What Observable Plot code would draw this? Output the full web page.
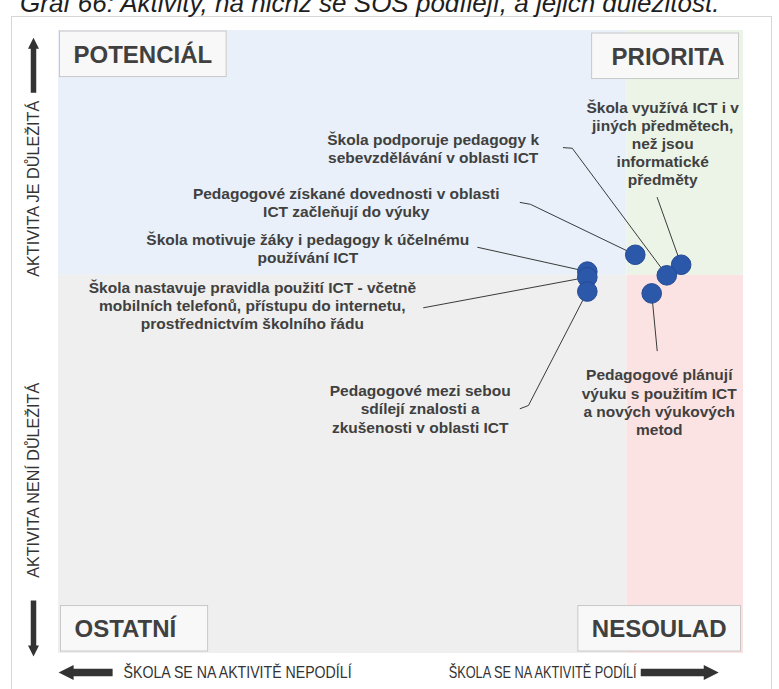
<!DOCTYPE html>
<html>
<head>
<meta charset="utf-8">
<script src="https://cdn.jsdelivr.net/npm/d3@7"></script>
<script src="https://cdn.jsdelivr.net/npm/@observablehq/plot@0.6"></script>
<style>
  body { margin: 0; background: #fff; }
  #wrap { position: relative; width: 779px; height: 689px; overflow: hidden; background: #fff; }
  #chart { position: absolute; left: 0; top: 0; }
  #border { position: absolute; left: 11px; top: 16px; width: 759px; height: 720px; border: 1px solid #d6d6d6; pointer-events: none; }
  #title { position: absolute; left: 20px; top: -10px; font: italic 26px/26px "Liberation Sans", Arial, sans-serif; color: #1e1e1e; white-space: nowrap; }
</style>
</head>
<body>
<div id="wrap">
  <div id="chart"></div>
  <div id="border"></div>
  <div id="title">Graf 66: Aktivity, na nichž se SOŠ podílejí, a jejich důležitost.</div>
</div>
<script>
// ---------- data ----------
const quadrantNames = ["POTENCIÁL", "PRIORITA", "OSTATNÍ", "NESOULAD"];
const quadrantColors = ["#e9f0f9", "#ecf4e8", "#efefef", "#fce3e3"];
const xSplit = 83;     // participation threshold
const ySplit = 60.7;   // importance threshold

const activities = [
  "Škola využívá ICT i v\njiných předmětech,\nnež jsou\ninformatické\npředměty",
  "Škola podporuje pedagogy k\nsebevzdělávání v oblasti ICT",
  "Pedagogové získané dovednosti v oblasti\nICT začleňují do výuky",
  "Škola motivuje žáky i pedagogy k účelnému\npoužívání ICT",
  "Škola nastavuje pravidla použití ICT - včetně\nmobilních telefonů, přístupu do internetu,\nprostřednictvím školního řádu",
  "Pedagogové mezi sebou\nsdílejí znalosti a\nzkušenosti v oblasti ICT",
  "Pedagogové plánují\nvýuku s použitím ICT\na nových výukových\nmetod"
];
const participation = [90.9, 88.8, 84.2, 77.2, 77.2, 77.2, 86.6];
const importance    = [62.4, 60.7, 64.0, 61.3, 60.4, 58.1, 57.8];

const axisYLabels = ["AKTIVITA JE DŮLEŽITÁ", "AKTIVITA NENÍ DŮLEŽITÁ"];
const axisXLabels = ["ŠKOLA SE NA AKTIVITĚ NEPODÍLÍ", "ŠKOLA SE NA AKTIVITĚ PODÍLÍ"];

// ---------- annotation layout (in chart units) ----------
const labelX = [88.2, 54.7, 42.0, 36.4, 28.3, 52.8, 87.7];
const labelY = [81.9, 81.1, 72.5, 65.1, 55.9, 39.3, 40.4];
const leaderStart = [[87.4, 73.2], [73.7, 81.2], [67.4, 72.4], [61.2, 65.2], [53.3, 55.5], [67.4, 39.3], [87.4, 48.6]];
const leaderElbow = [null, [75.0, 81.1], [68.9, 72.1], null, null, [68.6, 39.8], null];
const axisYPos = [74.6, 27.8];
const axisLabelLength = {y: [176, 195], x: [228, 188]};
const boxPadLeft = [14, 20, 14, 14];
const boxPadRight = [14, 14, 30, 14];

// ---------- tables ----------
const quadrants = quadrantNames.map((name, i) => ({
  name,
  color: quadrantColors[i],
  x1: i % 2 === 0 ? 0 : xSplit,
  x2: i % 2 === 0 ? xSplit : 100,
  y1: i < 2 ? ySplit : 0,
  y2: i < 2 ? 100 : ySplit
}));
const points = activities.map((a, i) => ({activity: a, x: participation[i], y: importance[i]}));
const labels = activities.map((a, i) => ({activity: a, x: labelX[i], y: labelY[i]}));
const leaders = [];
activities.forEach((a, i) => {
  leaders.push({id: i, x: leaderStart[i][0], y: leaderStart[i][1]});
  if (leaderElbow[i]) leaders.push({id: i, x: leaderElbow[i][0], y: leaderElbow[i][1]});
  leaders.push({id: i, x: participation[i], y: importance[i]});
});

// block arrow shape for vectors
const blockArrow = {
  draw(context, l, r) {
    const s = r * 0.5, h = r * 2;
    context.moveTo(-s, 0);
    context.lineTo(-s, -(l - h));
    context.lineTo(-r, -(l - h));
    context.lineTo(0, -l);
    context.lineTo(r, -(l - h));
    context.lineTo(s, -(l - h));
    context.lineTo(s, 0);
    context.closePath();
  }
};
const vArrows = [{x: -3.65, y: 90.0, len: 55, rot: 0}, {x: -3.65, y: 8.5, len: 56, rot: 180}];
const hArrows = [{x: 7.9, y: -3.05, len: 54, rot: 270}, {x: 85.0, y: -3.05, len: 78, rot: 90}];

const textColor = "#404040";

const plot = Plot.plot({
  width: 779,
  height: 689,
  marginLeft: 58,
  marginRight: 36,
  marginTop: 30,
  marginBottom: 36,
  x: {domain: [0, 100], axis: null},
  y: {domain: [0, 100], axis: null},
  color: {type: "identity"},
  length: {type: "identity"},
  style: {fontFamily: "'Liberation Sans', Arial, sans-serif", background: "transparent"},
  marks: [
    Plot.rect(quadrants, {x1: "x1", x2: "x2", y1: "y1", y2: "y2", fill: "color"}),
    Plot.text([quadrantNames[0]], {frameAnchor: "top-left", textAnchor: "start", lineAnchor: "top", dx: 15, dy: 15, fontSize: 24, fontWeight: "bold", fill: textColor, className: "quad0"}),
    Plot.text([quadrantNames[1]], {frameAnchor: "top-right", textAnchor: "end", lineAnchor: "top", dx: -19, dy: 17, fontSize: 24, fontWeight: "bold", fill: textColor, className: "quad1"}),
    Plot.text([quadrantNames[2]], {frameAnchor: "bottom-left", textAnchor: "start", lineAnchor: "top", dx: 16, dy: -33.5, fontSize: 24, fontWeight: "bold", fill: textColor, className: "quad2"}),
    Plot.text([quadrantNames[3]], {frameAnchor: "bottom-right", textAnchor: "end", lineAnchor: "top", dx: -17, dy: -33.5, fontSize: 24, fontWeight: "bold", fill: textColor, className: "quad3"}),
    Plot.line(leaders, {x: "x", y: "y", z: "id", stroke: "#3a3a3a", strokeWidth: 1}),
    Plot.dot(points, {x: "x", y: "y", r: 9.8, fill: "#2c58aa", stroke: "#244a92", strokeWidth: 1}),
    Plot.text(labels, {x: "x", y: "y", text: "activity", textAnchor: "middle", lineAnchor: "middle", lineHeight: 1.17, fontSize: 15.5, fontWeight: "bold", fill: textColor}),
    Plot.text(axisYLabels, {x: () => -3.65, y: (d, i) => axisYPos[i], text: d => d, rotate: -90, fontSize: 17, fill: "#333", className: "ylab"}),
    Plot.text([axisXLabels[0]], {x: () => 9.5, y: () => -3.05, text: d => d, textAnchor: "start", fontSize: 17, fill: "#333", className: "xlab0"}),
    Plot.text([axisXLabels[1]], {x: () => 84.4, y: () => -3.05, text: d => d, textAnchor: "end", fontSize: 17, fill: "#333", className: "xlab1"}),
    Plot.vector(vArrows, {x: "x", y: "y", length: "len", rotate: "rot", anchor: "start", shape: blockArrow, r: 5.5, fill: "#333", stroke: "none"}),
    Plot.vector(hArrows, {x: "x", y: "y", length: "len", rotate: "rot", anchor: "start", shape: blockArrow, r: 7.5, fill: "#333", stroke: "none"})
  ]
});
document.getElementById("chart").appendChild(plot);

// condensed axis captions (narrow typeface look)
const svg = d3.select(plot);
svg.selectAll("g.ylab text").each(function (d, i) {
  this.setAttribute("textLength", axisLabelLength.y[i]);
  this.setAttribute("lengthAdjust", "spacingAndGlyphs");
});
svg.selectAll("g.xlab0 text").attr("textLength", axisLabelLength.x[0]).attr("lengthAdjust", "spacingAndGlyphs");
svg.selectAll("g.xlab1 text").attr("textLength", axisLabelLength.x[1]).attr("lengthAdjust", "spacingAndGlyphs");

// boxes behind quadrant labels
quadrantNames.forEach((name, i) => {
  svg.selectAll(`g.quad${i} text`).each(function () {
    const b = this.getBBox();
    const rect = document.createElementNS("http://www.w3.org/2000/svg", "rect");
    rect.setAttribute("x", b.x - boxPadLeft[i]);
    rect.setAttribute("y", b.y - 9.5);
    rect.setAttribute("width", b.width + boxPadLeft[i] + boxPadRight[i]);
    rect.setAttribute("height", b.height + 18.5);
    rect.setAttribute("fill", "#f8f8f8");
    rect.setAttribute("stroke", "#c8c8c8");
    rect.setAttribute("stroke-width", 1);
    const t = this.getAttribute("transform");
    if (t) rect.setAttribute("transform", t);
    this.parentNode.insertBefore(rect, this);
  });
});
</script>
</body>
</html>
